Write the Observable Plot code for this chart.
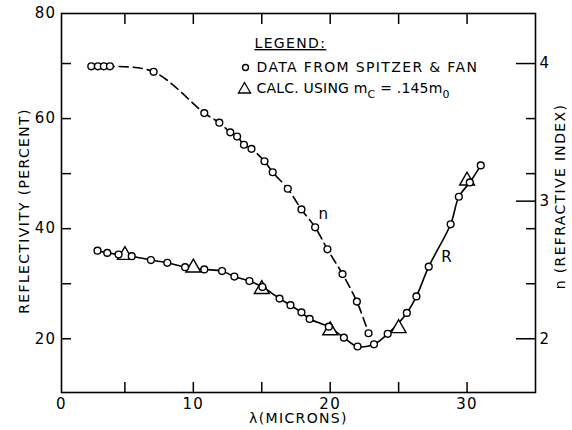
<!DOCTYPE html>
<html>
<head>
<meta charset="utf-8">
<script src="https://cdn.jsdelivr.net/npm/d3@7"></script>
<script src="https://cdn.jsdelivr.net/npm/@observablehq/plot@0.6"></script>
<style>
  body { margin: 0; background: #fff; }
  svg text { letter-spacing: 1.35px; }
  svg text.tight { letter-spacing: 0.2px; }
</style>
</head>
<body>
<div id="chart"></div>
<script>
// Refractive index n (Spitzer & Fan data)
const nLambda = [2.35, 2.87, 3.34, 3.82, 7.1, 10.8, 11.9, 12.7, 13.2, 13.7, 14.25, 15.2, 15.8, 16.9, 17.9, 18.9, 19.8, 20.9, 21.95, 22.8];
const nValues = [3.98, 3.98, 3.98, 3.98, 3.94, 3.64, 3.57, 3.50, 3.47, 3.41, 3.38, 3.29, 3.21, 3.09, 2.94, 2.81, 2.65, 2.47, 2.27, 2.04];
// Reflectivity R (Spitzer & Fan data)
const rLambda = [2.84, 3.61, 4.5, 5.5, 6.9, 8.1, 9.4, 10.8, 12.1, 13.0, 14.1, 15.05, 16.3, 17.1, 17.9, 18.5, 19.9, 21.0, 22.0, 23.2, 24.2, 25.6, 26.3, 27.2, 28.8, 29.4, 30.2, 31.0];
const rValues = [36.0, 35.6, 35.3, 35.0, 34.3, 33.8, 33.0, 32.6, 32.3, 31.3, 30.5, 29.4, 27.3, 26.1, 24.8, 23.6, 22.2, 20.2, 18.6, 19.0, 20.9, 24.7, 27.7, 33.1, 40.8, 45.8, 48.4, 51.5];
// Calculated reflectivity (m_C = .145 m_0)
const calcLambda = [5, 10, 15, 20, 25, 30];
const calcValues = [35.2, 32.9, 29.0, 21.5, 21.9, 48.7];

// Tick labels
const xTickLabels = [0, 10, 20, 30];
const xTickMarks = [5, 10, 15, 20, 25, 30];
const yTickLabels = [20, 40, 60, 80];
const yTickMarks = [20, 30, 40, 50, 60, 70];
const nTickLabels = [2, 3, 4];
const nMinorTicks = [2.4, 2.8, 3.2, 3.6];

// right axis: n = 2 <-> R = 20, n = 4 <-> R = 70
const nToR = n => 20 + 25 * (n - 2);
const rToN = r => 2 + (r - 20) / 25;

// the hand-drawn original's axes are slightly uneven at their ends
const xWarp = x => x < 5 ? 5 - (5 - x) * (12.66 / 13.667) : x;
const yWarp = r => r <= 70 ? r : 70 + (r - 70) * (50 / 55);

const nData = nLambda.map((x, i) => ({x, y: nToR(nValues[i])}));
const rData = rLambda.map((x, i) => ({x, y: rValues[i]}));
const calcData = calcLambda.map((x, i) => ({x, y: calcValues[i]}));

const FONT = "DejaVu Sans";

const chart = Plot.plot({
  width: 572,
  height: 430,
  marginLeft: 61,
  marginRight: 37,
  marginTop: 13,
  marginBottom: 38,
  x: {transform: xWarp, domain: [xWarp(0), 35.0]},
  y: {transform: yWarp, domain: [10.24, yWarp(80)]},
  style: {fontFamily: FONT, fontSize: "14px", color: "black", background: "white"},
  marks: [
    Plot.frame({stroke: "black", strokeWidth: 1.6}),
    // bottom axis
    Plot.axisX(xTickMarks, {anchor: "bottom", tickSize: -10, tickFormat: () => "", strokeWidth: 1.5, label: null}),
    Plot.axisX(xTickLabels, {anchor: "bottom", tickSize: 0, tickPadding: 6, fontSize: 15, label: null}),
    // top axis ticks
    Plot.axisX(xTickMarks, {anchor: "top", tickSize: -10, tickFormat: () => "", strokeWidth: 1.5, label: null}),
    // left axis
    Plot.axisY(yTickMarks, {anchor: "left", tickSize: -10, tickFormat: () => "", strokeWidth: 1.5, label: null}),
    Plot.axisY(yTickLabels, {anchor: "left", tickSize: 0, tickPadding: 5, fontSize: 15, label: null}),
    // right axis (n)
    Plot.axisY(nMinorTicks.map(nToR), {anchor: "right", tickSize: -10, tickFormat: () => "", strokeWidth: 1.5, label: null}),
    Plot.axisY(nTickLabels.map(nToR), {anchor: "right", tickSize: -20, tickPadding: 24, strokeWidth: 1.5, fontSize: 15,
      tickFormat: r => String(Math.round(rToN(r))), label: null}),
    // axis titles
    Plot.text(["REFLECTIVITY (PERCENT)"], {frameAnchor: "left", textAnchor: "middle", lineAnchor: "middle", rotate: -90, dx: -37, dy: 8, fontSize: 14}),
    Plot.text(["n (REFRACTIVE INDEX)"], {frameAnchor: "right", textAnchor: "middle", lineAnchor: "middle", rotate: -90, dx: 25, dy: -6.5, fontSize: 14}),
    Plot.text(["λ(MICRONS)"], {frameAnchor: "bottom", lineAnchor: "middle", dy: 26, fontSize: 14}),
    // curves
    Plot.line(nData, {x: "x", y: "y", curve: "catmull-rom", stroke: "black", strokeWidth: 1.6, strokeDasharray: "9,5"}),
    Plot.line(rData, {x: "x", y: "y", curve: "catmull-rom", stroke: "black", strokeWidth: 1.6}),
    Plot.dot(calcData, {x: "x", y: "y", symbol: "triangle", r: 5.5, stroke: "black", fill: "white", strokeWidth: 1.4}),
    Plot.dot(nData, {x: "x", y: "y", r: 3.4, stroke: "black", fill: "white", strokeWidth: 1.4}),
    Plot.dot(rData, {x: "x", y: "y", r: 3.4, stroke: "black", fill: "white", strokeWidth: 1.4}),
    // curve labels
    Plot.text(["n"], {x: 19.55, y: 42.6, fontSize: 15}),
    Plot.text(["R"], {x: 28.55, y: 34.8, fontSize: 15}),
    // legend
    Plot.text(["LEGEND:"], {frameAnchor: "top-left", lineAnchor: "middle", dx: 193, dy: 30, textAnchor: "start", fontSize: 14}),
    Plot.dot([0], {x: null, y: null, frameAnchor: "top-left", dx: 184, dy: 54, r: 3, stroke: "black", fill: "white", strokeWidth: 1.4}),
    Plot.text(["DATA FROM SPITZER & FAN"], {frameAnchor: "top-left", lineAnchor: "middle", dx: 195, dy: 54, textAnchor: "start", fontSize: 14}),
    Plot.dot([0], {x: null, y: null, frameAnchor: "top-left", dx: 183, dy: 76, symbol: "triangle", r: 4.5, stroke: "black", fill: "white", strokeWidth: 1.3}),
    Plot.text(["CALC. USING m_C = .145m_0"], {frameAnchor: "top-left", lineAnchor: "middle", dx: 195, dy: 75, textAnchor: "start", fontSize: 14})
  ]
});

document.getElementById("chart").appendChild(chart);

// post-process: underline and subscripts
d3.select(chart).selectAll("text").each(function () {
  const t = this.textContent;
  if (t === "LEGEND:") {
    d3.select(this).style("text-decoration", "underline");
  } else if (t.includes("_")) {
    const sel = d3.select(this).classed("tight", true);
    sel.text(null);
    const parts = t.split(/_(\w)/);
    parts.forEach((p, i) => {
      if (i % 2 === 0) {
        if (p) sel.append("tspan").attr("dy", i > 0 ? "-5" : null).text(p);
      } else {
        sel.append("tspan").attr("dy", "5").attr("font-size", "11px").text(p);
      }
    });
  }
});
</script>
</body>
</html>
